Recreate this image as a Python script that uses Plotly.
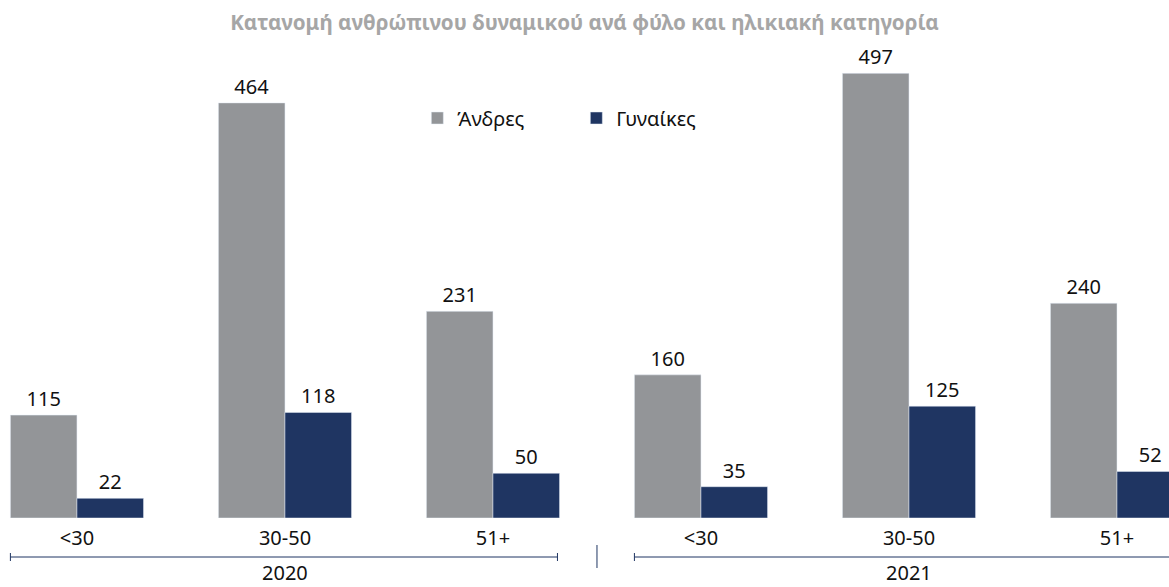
import plotly.graph_objects as go

years = ["2020", "2020", "2020", "2021", "2021", "2021"]
ages = ["<30", "30-50", "51+", "<30", "30-50", "51+"]
men = [115, 464, 231, 160, 497, 240]
women = [22, 118, 50, 35, 125, 52]

GREY = "#939598"
NAVY = "#1f3562"
FONT = "Noto Sans"

cats = [f"{y} {a}" for y, a in zip(years, ages)]

fig = go.Figure()
fig.add_trace(go.Bar(x=cats, y=men, name="Άνδρες", marker_color=GREY,
                     text=men, textposition="outside", cliponaxis=False,
                     textfont=dict(size=20, color="#111111", family=FONT)))
fig.add_trace(go.Bar(x=cats, y=women, name="Γυναίκες", marker_color=NAVY,
                     text=women, textposition="outside", cliponaxis=False,
                     textfont=dict(size=20, color="#111111", family=FONT)))

x0, x1 = -0.37, 5.25
def px(v):
    return (v - x0) / (x1 - x0)

fig.update_layout(
    width=1169, height=587,
    margin=dict(l=0, r=0, t=17, b=69),
    paper_bgcolor="white", plot_bgcolor="white",
    barmode="group", bargap=0.36, bargroupgap=0,
    title=dict(text="<b>Κατανομή ανθρώπινου δυναμικού ανά φύλο και ηλικιακή κατηγορία</b>",
               x=0.5, xanchor="center", y=1 - 23 / 587, yanchor="middle",
               font=dict(family=FONT, size=20.6, color="#a6a6a6")),
    legend=dict(orientation="h", x=0.357, y=1 - 101 / 501, xanchor="left", yanchor="middle",
                font=dict(family=FONT, size=20, color="#111111"), entrywidth=114,
                bgcolor="rgba(0,0,0,0)"),
    xaxis=dict(type="category", range=[x0, x1], showgrid=False, zeroline=False,
               showline=False, ticks="", ticklabelstandoff=6,
               tickmode="array", tickvals=cats, ticktext=ages,
               tickfont=dict(family=FONT, size=20, color="#111111")),
    yaxis=dict(range=[0, 560], visible=False),
    font=dict(family=FONT),
)

# year group labels centred under each group's middle category
for yr in dict.fromkeys(years):
    idx = [i for i, y in enumerate(years) if y == yr]
    mid = cats[idx[len(idx) // 2]]
    fig.add_annotation(x=mid, xref="x", y=-69 / 501, yref="paper", text=yr, showarrow=False,
                       xanchor="center", yanchor="bottom", borderpad=0,
                       font=dict(family=FONT, size=20, color="#111111"))

# group brackets under the axis
for a, b in [(-0.32, 2.31), (2.68, 5.6)]:
    fig.add_shape(type="line", xref="paper", yref="paper", x0=px(a), x1=px(b), y0=-39/501, y1=-39/501,
                  line=dict(color=NAVY, width=1))
    for e in (a, b):
        fig.add_shape(type="line", xref="paper", yref="paper", x0=px(e), x1=px(e),
                      y0=-35/501, y1=-43/501, line=dict(color=NAVY, width=1))
fig.add_shape(type="line", xref="paper", yref="paper", x0=px(2.5), x1=px(2.5),
              y0=-27/501, y1=-50/501, line=dict(color=NAVY, width=1))

fig.write_html("out.html", config={"displayModeBar": False},
               post_script="document.body.style.margin='0';")
